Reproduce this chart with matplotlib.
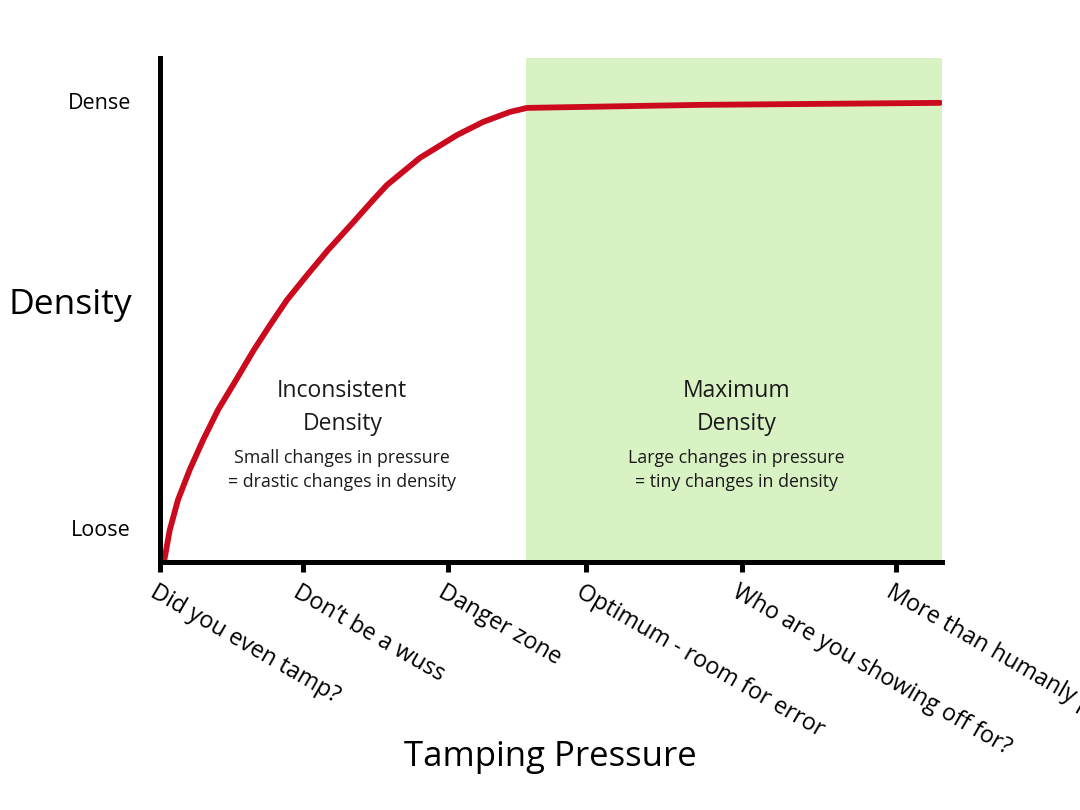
import matplotlib
matplotlib.use("Agg")
import matplotlib.pyplot as plt
import matplotlib.transforms as mtransforms

plt.rcParams['font.family'] = ['Open Sans', 'DejaVu Sans']

# pressure (x) and density (y)
pressure = [0.027, 0.066, 0.122, 0.202, 0.293, 0.395, 0.517, 0.639, 0.748,
            0.864, 1.0, 1.143, 1.299, 1.449, 1.544, 1.769, 2.020, 2.197,
            2.381, 2.497, 3.673, 5.306]
density = [0.0, 0.063, 0.123, 0.183, 0.242, 0.302, 0.361, 0.421, 0.470,
           0.520, 0.569, 0.619, 0.669, 0.718, 0.748, 0.802, 0.847, 0.873,
           0.893, 0.901, 0.907, 0.911]

tick_pos = [0, 0.97, 1.96, 2.90, 3.96, 5.01]
tick_labels = ["Did you even tamp?", "Don\u2019t be a wuss", "Danger zone",
               "Optimum - room for error", "Who are you showing off for?",
               "More than humanly possible"]
y_ticks = [0.067, 0.915]
y_labels = ["Loose", "Dense"]
optimum_start = 2.49
x_max = 5.32

fig = plt.figure(figsize=(10.8, 8.1), dpi=100)
ax = fig.add_axes([160/1080, 1-562/810, 782/1080, 504/810])

# green "optimum" band
ax.axvspan(optimum_start, x_max, color='#d9f2c4', lw=0, zorder=0)
ax.plot(pressure, density, color='#cc0a1e', lw=4.2, solid_capstyle='round',
        solid_joinstyle='round', zorder=3)

ax.set_xlim(0, x_max)
ax.set_ylim(0, 1)

for s in ['top', 'right']:
    ax.spines[s].set_visible(False)
for s in ['left', 'bottom']:
    ax.spines[s].set_linewidth(3.6)
    ax.spines[s].set_zorder(4)

ax.set_xticks(tick_pos)
ax.set_xticklabels(tick_labels, rotation=-30, ha='left', va='top',
                   rotation_mode='anchor', fontsize=16.8)
ax.tick_params(axis='x', length=7, width=3.6, pad=6)
offset = mtransforms.ScaledTranslation(-2/100, 0, fig.dpi_scale_trans)
for lab in ax.get_xticklabels():
    lab.set_transform(lab.get_transform() + offset)

ax.set_yticks(y_ticks)
ax.set_yticklabels(y_labels, fontsize=15.5)
ax.tick_params(axis='y', length=0, pad=21)

ax.set_ylabel("Density", rotation=0, fontsize=25.5, ha='center', va='center')
ax.yaxis.set_label_coords(-0.115, 0.51)
ax.set_xlabel("Tamping Pressure", fontsize=25, ha='center', va='center')
ax.xaxis.set_label_coords(0.499, -0.387)

# region notes
ax.text(1.24, 0.3065, "Inconsistent\nDensity", ha='center', va='center',
        fontsize=16.5, linespacing=1.45, color='#1a1a1a')
ax.text(1.24, 0.1825, "Small changes in pressure\n= drastic changes in density",
        ha='center', va='center', fontsize=12.8, linespacing=1.46, color='#1a1a1a')
ax.text(3.92, 0.3065, "Maximum\nDensity", ha='center', va='center',
        fontsize=16.5, linespacing=1.45, color='#1a1a1a')
ax.text(3.92, 0.1825, "Large changes in pressure\n= tiny changes in density",
        ha='center', va='center', fontsize=12.8, linespacing=1.46, color='#1a1a1a')

fig.savefig("out.png", dpi=100)
